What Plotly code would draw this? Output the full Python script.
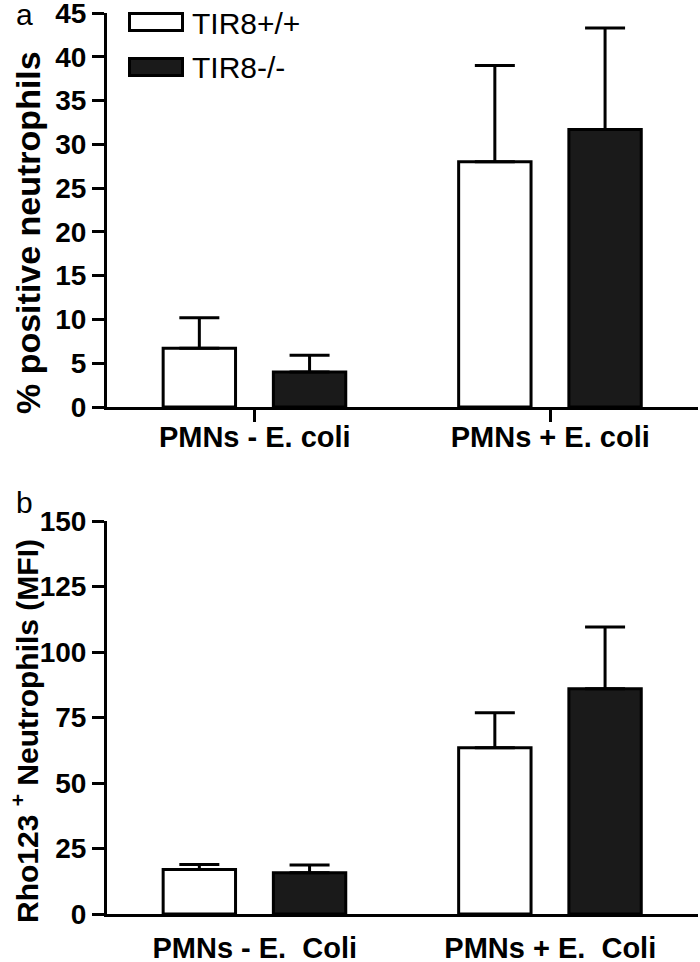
import plotly.graph_objects as go

# ---------------- data ----------------
groups_a = ["PMNs - E. coli", "PMNs + E. coli"]
groups_b = ["PMNs - E.  Coli", "PMNs + E.  Coli"]
series_names = ["TIR8+/+", "TIR8-/-"]

pct_wt = [6.7, 28.0]
pct_wt_err = [3.5, 11.0]
pct_ko = [4.0, 31.7]
pct_ko_err = [1.9, 11.6]

mfi_wt = [17.0, 63.5]
mfi_wt_err = [1.9, 13.3]
mfi_ko = [15.7, 86.0]
mfi_ko_err = [3.0, 23.5]

yticks_a = [0, 5, 10, 15, 20, 25, 30, 35, 40, 45]
yticks_b = [0, 25, 50, 75, 100, 125, 150]

# ---------------- layout helpers ----------------
W, H = 700, 962
L, R = 107, 2
PW = W - L - R


def px(x):
    return (x - L) / PW


def py(y):
    return 1 - y / H


FONT = "Liberation Sans, Arial, Helvetica, sans-serif"
BLACK = "#000000"
DARK = "#1a1a1a"
LW = 3

fig = go.Figure()

bar_w = 0.245
off_wt = -0.31
off_ko = 0.063


def add_bars(x, wt, wt_err, ko, ko_err, xa, ya):
    fig.add_trace(go.Bar(
        x=x, y=wt, name=series_names[0], xaxis=xa, yaxis=ya,
        width=bar_w, offset=off_wt,
        marker=dict(color="white", line=dict(color=BLACK, width=LW)),
        error_y=dict(type="data", array=wt_err, arrayminus=[0] * len(wt),
                     symmetric=False, color=BLACK, thickness=LW, width=20),
        showlegend=False,
    ))
    fig.add_trace(go.Bar(
        x=x, y=ko, name=series_names[1], xaxis=xa, yaxis=ya,
        width=bar_w, offset=off_ko,
        marker=dict(color=DARK, line=dict(color=BLACK, width=LW)),
        error_y=dict(type="data", array=ko_err, arrayminus=[0] * len(ko),
                     symmetric=False, color=BLACK, thickness=LW, width=20),
        showlegend=False,
    ))


add_bars(groups_a, pct_wt, pct_wt_err, pct_ko, pct_ko_err, "x", "y")
add_bars(groups_b, mfi_wt, mfi_wt_err, mfi_ko, mfi_ko_err, "x2", "y2")

tickfont = dict(family=FONT, size=28, color=BLACK, weight="bold")
catfont = dict(family=FONT, size=29, color=BLACK, weight="bold")

common_y = dict(showgrid=False, zeroline=False, showline=True, linecolor=BLACK,
                linewidth=LW, ticks="outside", ticklen=12, tickwidth=LW,
                tickcolor=BLACK, tickfont=tickfont, automargin=False,
                ticklabeloverflow="allow")
common_x = dict(showgrid=False, zeroline=False, showline=True, linecolor=BLACK,
                linewidth=LW, tickfont=catfont, type="category",
                range=[-0.5, 1.5], domain=[0, 1], automargin=False,
                ticklabeloverflow="allow")

fig.update_layout(
    width=W, height=H,
    margin=dict(l=L, r=R, t=0, b=0, pad=0, autoexpand=False),
    paper_bgcolor="white", plot_bgcolor="white",
    barmode="overlay",
    showlegend=False,
    xaxis=dict(**common_x, anchor="y", ticks="outside", ticklen=12,
               tickwidth=LW, tickcolor=BLACK, ticklabelstandoff=-10),
    yaxis=dict(**common_y, anchor="x", domain=[py(407), py(13)],
               range=[0, 45], tickvals=yticks_a),
    xaxis2=dict(**common_x, anchor="y2", ticks="outside", ticklen=6,
                tickwidth=LW, tickcolor="rgba(0,0,0,0)"),
    yaxis2=dict(**common_y, anchor="x2", domain=[py(914), py(521)],
                range=[0, 150], tickvals=yticks_b),
)

# legend drawn manually (large boxes as in the reference)
fig.add_shape(type="rect", xref="paper", yref="paper",
              x0=px(129.5), x1=px(182.5), y0=py(30.5), y1=py(13.5),
              fillcolor="white", line=dict(color=BLACK, width=LW))
fig.add_shape(type="rect", xref="paper", yref="paper",
              x0=px(129.5), x1=px(182.5), y0=py(75.5), y1=py(58.5),
              fillcolor=DARK, line=dict(color=BLACK, width=LW))
fig.add_annotation(x=px(190), y=py(23), xref="paper", yref="paper",
                   text=series_names[0], showarrow=False, xanchor="left",
                   yanchor="middle", font=dict(family=FONT, size=30, color=BLACK))
fig.add_annotation(x=px(190), y=py(67), xref="paper", yref="paper",
                   text=series_names[1], showarrow=False, xanchor="left",
                   yanchor="middle", font=dict(family=FONT, size=30, color=BLACK))

# panel letters
fig.add_annotation(x=px(24), y=py(14), xref="paper", yref="paper", text="a",
                   showarrow=False, xanchor="center", yanchor="middle",
                   font=dict(family=FONT, size=30, color=BLACK))
fig.add_annotation(x=px(24), y=py(503), xref="paper", yref="paper", text="b",
                   showarrow=False, xanchor="center", yanchor="middle",
                   font=dict(family=FONT, size=30, color=BLACK))

# y-axis titles
fig.add_annotation(x=px(28), y=py(233), xref="paper", yref="paper",
                   text="% positive neutrophils", textangle=-90,
                   showarrow=False, xanchor="center", yanchor="middle",
                   font=dict(family=FONT, size=34, color=BLACK, weight="bold"))
fig.add_annotation(x=px(25), y=py(731), xref="paper", yref="paper",
                   text="Rho123 <sup>+</sup> Neutrophils (MFI)", textangle=-90,
                   showarrow=False, xanchor="center", yanchor="middle",
                   font=dict(family=FONT, size=30, color=BLACK, weight="bold"))

# remove the browser's default 8px body margin so the figure fills the window
fig.write_html("out.html", config={"displayModeBar": False},
               post_script="document.body.style.margin='0';")
